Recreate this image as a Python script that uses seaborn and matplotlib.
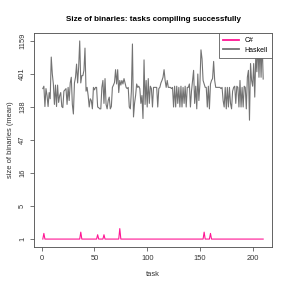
import numpy as np
import pandas as pd
import matplotlib
matplotlib.use("Agg")
import matplotlib.pyplot as plt
import seaborn as sns

# mean binary size per task
haskell = [250, 270, 140, 250, 200, 140, 220, 180, 690, 400,
           290, 150, 280, 140, 280, 160, 200, 220, 140, 135,
           230, 240, 250, 150, 260, 170, 300, 360, 150, 110,
           300, 360, 550, 300, 500, 1159, 300, 380, 380, 450,
           920, 230, 260, 200, 138, 180, 170, 130, 260, 240,
           260, 260, 138, 135, 130, 130, 260, 325, 155, 345,
           150, 130, 170, 190, 130, 140, 260, 280, 305, 460,
           290, 460, 220, 325, 280, 325, 290, 345, 300, 260,
           250, 260, 138, 130, 230, 1050, 100, 155, 200, 290,
           260, 270, 250, 155, 200, 95, 630, 150, 325, 138,
           345, 155, 270, 250, 138, 260, 260, 260, 260, 138,
           250, 260, 300, 325, 360, 460, 325, 260, 325, 260,
           260, 260, 250, 260, 138, 270, 138, 270, 155, 260,
           138, 270, 138, 260, 155, 270, 138, 260, 260, 290,
           138, 230, 325, 450, 155, 270, 130, 400, 170, 290,
           870, 650, 325, 290, 260, 260, 138, 270, 130, 290,
           325, 345, 600, 325, 260, 260, 260, 260, 260, 250,
           260, 170, 138, 260, 130, 260, 138, 260, 155, 130,
           230, 260, 270, 155, 270, 260, 138, 325, 138, 260,
           138, 270, 260, 130, 360, 450, 90, 560, 325, 270,
           560, 190, 750, 430, 1100, 360, 1100, 360, 1159, 340]

csharp = [1.0] * len(haskell)
spikes = {2: 1.4, 37: 1.5, 53: 1.3, 59: 1.3, 74: 1.8, 154: 1.5, 160: 1.4}
for t, v in spikes.items():
    csharp[t - 1] = v

tasks = list(range(1, len(haskell) + 1))
langs = ["C#", "Haskell"]
colors = ["#ff1493", "#737373"]

df = pd.DataFrame({
    "task": tasks * 2,
    "size": csharp + haskell,
    "lang": ["C#"] * len(tasks) + ["Haskell"] * len(tasks),
})

plt.rcParams["font.family"] = ["Liberation Sans", "DejaVu Sans"]

fig = plt.figure(figsize=(291 / 72, 291 / 72), dpi=72)
ax = fig.add_axes([34 / 291, 1 - 247 / 291, 238 / 291, 214 / 291])

sns.lineplot(data=df, x="task", y="size", hue="lang", hue_order=langs,
             palette=colors, linewidth=1.1, ax=ax, legend=True)

ax.set_yscale("function", functions=(np.log1p, np.expm1))
lo, hi = np.log1p(min(df["size"])), np.log1p(max(df["size"]))
yt = np.expm1(np.linspace(lo, hi, 7))
pad = (hi - lo) * 0.04
ax.set_ylim(np.expm1(lo - pad), np.expm1(hi + pad))
ax.set_yticks(yt)
ax.set_yticklabels([str(int(round(v))) for v in yt], rotation=90, va="center")

xpad = (tasks[-1] - tasks[0]) * 0.04
ax.set_xlim(tasks[0] - xpad, tasks[-1] + xpad)
ax.set_xticks([0, 50, 100, 150, 200])

for s in ax.spines.values():
    s.set_color("#555555")
    s.set_linewidth(0.9)
ax.tick_params(length=4, width=0.8, color="#555555", labelsize=7.5,
               labelcolor="#333333", pad=4)

ax.set_xlabel("task", fontsize=7.5, color="#333333", labelpad=9)
ax.set_ylabel("size of binaries (mean)", fontsize=7.5, color="#333333", labelpad=5)
ax.set_title("Size of binaries: tasks compiling successfully",
             fontsize=8, fontweight="bold", pad=12)

leg = ax.legend(loc="upper right", borderaxespad=0, fontsize=7,
                fancybox=False, framealpha=1, edgecolor="#555555",
                handlelength=2.3, handletextpad=0.8, borderpad=0.6,
                labelspacing=0.35)
leg.get_frame().set_linewidth(0.8)
for h in leg.get_lines():
    h.set_linewidth(1.8)

fig.savefig("out.png", dpi=72)
